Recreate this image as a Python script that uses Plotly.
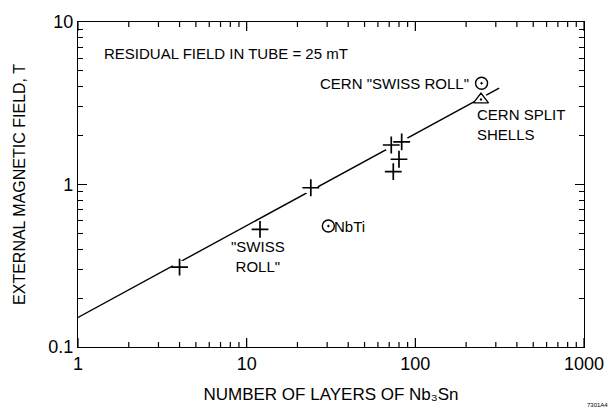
import plotly.graph_objects as go

# ---- data ----
nb3sn_layers = [4, 12, 24, 72, 74, 80, 83]
nb3sn_field = [0.31, 0.53, 0.955, 1.75, 1.2, 1.43, 1.83]

nbti_layers = [30.5]
nbti_field = [0.555]

cern_roll_layers = [247]
cern_roll_field = [4.2]

cern_shell_layers = [245]
cern_shell_field = [3.33]

fit_layers = [1, 314]
fit_field = [0.152, 3.92]

x_tickvals = [1, 10, 100, 1000]
x_ticktext = ["1", "10", "100", "1000"]
y_tickvals = [0.1, 1, 10]
y_ticktext = ["0.1", "1", "10"]

FONT = "Liberation Sans"
INK = "black"
X_RANGE = [0, 3]
Y_RANGE = [-1, 1]

x_minor_ticks = [m * 10 ** e for e in range(0, 3) for m in range(2, 10)]

fig = go.Figure()

# fit line
fig.add_trace(go.Scatter(x=fit_layers, y=fit_field, mode="lines",
                         line=dict(color=INK, width=1.4), hoverinfo="skip",
                         showlegend=False))
# white halos to break the line around the markers
halo_x = nb3sn_layers + cern_shell_layers
halo_y = nb3sn_field + cern_shell_field
fig.add_trace(go.Scatter(x=halo_x, y=halo_y, mode="markers",
                         marker=dict(symbol="circle", size=14, color="white"),
                         hoverinfo="skip", showlegend=False))
# Nb3Sn points
fig.add_trace(go.Scatter(x=nb3sn_layers, y=nb3sn_field, mode="markers",
                         marker=dict(symbol="cross-thin", size=12,
                                     line=dict(color=INK, width=1.7)),
                         showlegend=False))
# NbTi and CERN swiss roll
fig.add_trace(go.Scatter(x=nbti_layers + cern_roll_layers,
                         y=nbti_field + cern_roll_field, mode="markers",
                         marker=dict(symbol="circle-open-dot", size=12, color=INK,
                                     line=dict(color=INK, width=1.4)),
                         showlegend=False))
# CERN split shells
fig.add_trace(go.Scatter(x=cern_shell_layers, y=cern_shell_field, mode="markers",
                         marker=dict(symbol="triangle-up-open-dot", size=13, color=INK,
                                     line=dict(color=INK, width=1.4)),
                         showlegend=False))

# inward x tick marks on bottom and top frame, placed on the x scale
shapes = []
for tvals, length in ((x_tickvals, 9), (x_minor_ticks, 5)):
    for v in tvals:
        for anchor, direction in ((0, 1), (1, -1)):
            shapes.append(dict(type="line", xref="x", yref="paper",
                               x0=v, x1=v, ysizemode="pixel", yanchor=anchor,
                               y0=0, y1=direction * length, layer="above",
                               line=dict(color=INK, width=1.2)))

ann_font = dict(family=FONT, size=15, color=INK)
annotations = [
    dict(text="RESIDUAL FIELD IN TUBE = 25 mT", x=0.047, y=0.904,
         xanchor="left", yanchor="middle"),
    dict(text='CERN "SWISS ROLL"', x=0.777, y=0.811,
         xanchor="right", yanchor="middle"),
    dict(text="CERN SPLIT<br>SHELLS", x=0.785, y=0.686,
         xanchor="left", yanchor="middle", align="left"),
    dict(text="NbTi", x=0.501, y=0.371, xanchor="left", yanchor="middle"),
    dict(text='"SWISS<br>ROLL"', x=0.355, y=0.278,
         xanchor="center", yanchor="middle", align="center"),
]
for a in annotations:
    a.update(xref="paper", yref="paper", showarrow=False, font=ann_font)
annotations.append(dict(text="7301A4", x=1.026, y=-0.177, xref="paper", yref="paper",
                        showarrow=False, font=dict(family=FONT, size=6, color=INK),
                        xanchor="center", yanchor="middle"))

fig.update_layout(
    width=616, height=413,
    margin=dict(l=78, r=31, t=13, b=66),
    paper_bgcolor="white", plot_bgcolor="white",
    xaxis=dict(type="log", range=X_RANGE, showgrid=False, zeroline=False,
               showline=True, linecolor=INK, linewidth=1.3, mirror="allticks",
               ticks="inside", ticklen=9, tickcolor=INK,
               tickmode="array", tickvals=x_tickvals, ticktext=x_ticktext,
               tickfont=dict(family=FONT, size=18, color=INK),
               title=dict(text="NUMBER OF LAYERS OF Nb\u2083Sn",
                          font=dict(family=FONT, size=17, color=INK))),
    yaxis=dict(type="log", range=Y_RANGE, showgrid=False, zeroline=False,
               showline=True, linecolor=INK, linewidth=1.3, mirror="allticks",
               ticks="inside", ticklen=9, tickcolor=INK,
               tickmode="array", tickvals=y_tickvals, ticktext=y_ticktext,
               minor=dict(ticks="inside", ticklen=5, tickcolor=INK, dtick="D1",
                          showgrid=False),
               tickfont=dict(family=FONT, size=18, color=INK),
               title=dict(text="EXTERNAL MAGNETIC FIELD, T", standoff=18,
                          font=dict(family=FONT, size=16, color=INK))),
    shapes=shapes,
    annotations=annotations,
)

fig.write_html("out.html")
